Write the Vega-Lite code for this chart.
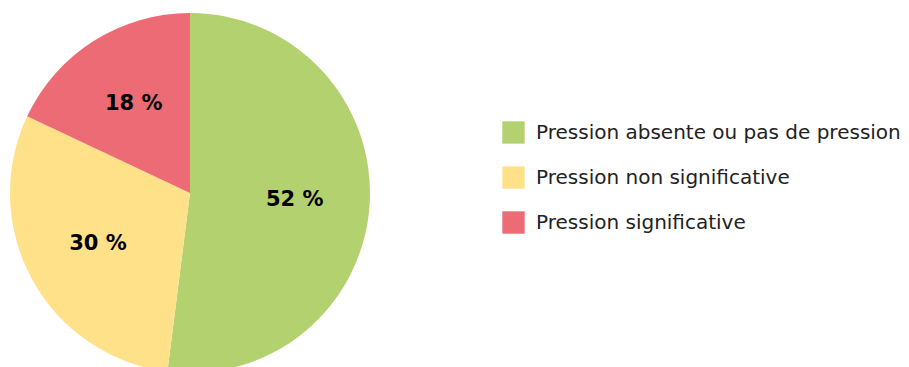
{
  "$schema": "https://vega.github.io/schema/vega-lite/v6.json",
  "width": 380,
  "height": 386,
  "autosize": {"type": "pad"},
  "padding": 0,
  "background": "white",
  "data": {
    "values": [
      {"categorie": "Pression absente ou pas de pression", "part": 52, "etiquette": "52 %", "ordre": 1},
      {"categorie": "Pression non significative", "part": 30, "etiquette": "30 %", "ordre": 2},
      {"categorie": "Pression significative", "part": 18, "etiquette": "18 %", "ordre": 3}
    ]
  },
  "encoding": {
    "theta": {"field": "part", "type": "quantitative", "stack": true},
    "order": {"field": "ordre", "type": "quantitative"}
  },
  "layer": [
    {
      "mark": {"type": "arc", "outerRadius": 180, "stroke": null},
      "encoding": {
        "color": {
          "field": "categorie",
          "type": "nominal",
          "sort": ["Pression absente ou pas de pression", "Pression non significative", "Pression significative"],
          "scale": {
            "domain": ["Pression absente ou pas de pression", "Pression non significative", "Pression significative"],
            "range": ["#B3D16E", "#FFE18A", "#ED6B75"]
          },
          "legend": {
            "orient": "none",
            "legendX": 502,
            "legendY": 121,
            "title": null,
            "symbolType": "square",
            "symbolSize": 500,
            "symbolStrokeWidth": 0,
            "symbolOpacity": 1,
            "labelFont": "DejaVu Sans",
            "labelFontSize": 20,
            "labelColor": "#222222",
            "labelOffset": 11,
            "labelLimit": 500,
            "rowPadding": 22
          }
        }
      }
    },
    {
      "mark": {"type": "text", "radius": 105, "fontSize": 21, "fontWeight": "bold", "font": "DejaVu Sans", "color": "#000000"},
      "encoding": {
        "text": {"field": "etiquette", "type": "nominal"}
      }
    }
  ]
}
